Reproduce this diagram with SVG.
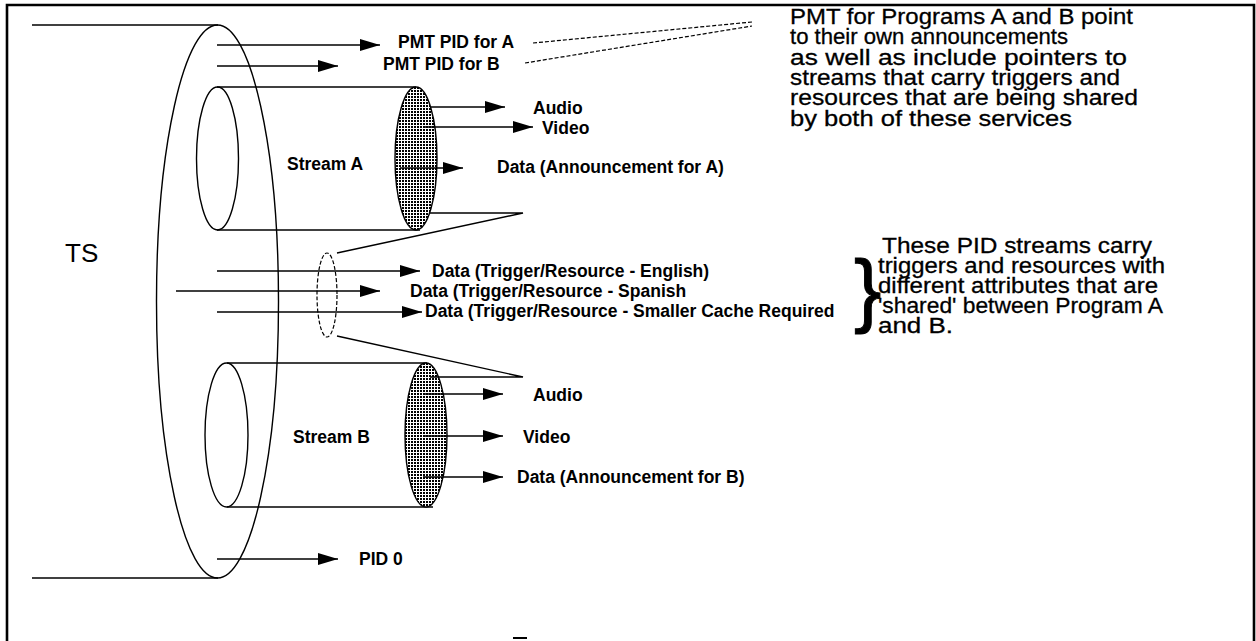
<svg xmlns="http://www.w3.org/2000/svg" width="1256" height="641" viewBox="0 0 1256 641">
  <defs>
    <!-- dotted screen used for the stream end caps -->
    <pattern id="dots" width="3" height="3" patternUnits="userSpaceOnUse">
      <rect width="3" height="3" fill="#fff"/>
      <rect width="2" height="2" fill="#000"/>
    </pattern>
    <marker id="head" markerUnits="userSpaceOnUse" markerWidth="20" markerHeight="12" refX="20" refY="6" orient="auto">
      <path d="M0,0 L20,6 L0,12 z" fill="#000"/>
    </marker>
  </defs>
  <style>
    .ln { stroke: #000; stroke-width: 1.4; fill: none; }
    .arr { stroke: #000; stroke-width: 1.4; fill: none; marker-end: url(#head); }
    .dash { stroke: #000; stroke-width: 1.2; fill: none; stroke-dasharray: 4 2; }
    .lbl { font-family: "Liberation Sans", Arial, sans-serif; font-weight: bold; font-size: 17.5px; fill: #000; }
    .note { font-family: "Liberation Sans", Arial, sans-serif; font-size: 22px; fill: #000; stroke: #000; stroke-width: 0.3px; }
    .cap { fill: url(#dots); stroke: #000; stroke-width: 1.4; }
  </style>

  <rect width="1256" height="641" fill="#fff"/>
  <!-- frame (open at the bottom) -->
  <path d="M7,645 V5 H1254 V645" fill="none" stroke="#000" stroke-width="2.6"/>

  <!-- transport stream tube -->
  <g id="ts">
    <ellipse class="ln" cx="217.5" cy="301.5" rx="61" ry="276.5"/>
    <line class="ln" x1="32" y1="25" x2="218" y2="25"/>
    <line class="ln" x1="32" y1="578" x2="218" y2="578"/>
    <text x="65" y="262" font-family="Liberation Sans, Arial, sans-serif" font-size="26">TS</text>
  </g>

  <!-- program stream A -->
  <g id="stream-a">
    <ellipse class="ln" cx="217.5" cy="158.5" rx="21" ry="71.5"/>
    <line class="ln" x1="217" y1="87" x2="416" y2="87"/>
    <line class="ln" x1="217" y1="230" x2="420" y2="230"/>
    <ellipse class="cap" cx="416" cy="158.5" rx="21" ry="71.5"/>
    <text class="lbl" x="287" y="170">Stream A</text>
  </g>

  <!-- program stream B -->
  <g id="stream-b">
    <ellipse class="ln" cx="226.5" cy="435" rx="21.5" ry="72"/>
    <line class="ln" x1="227" y1="363" x2="427" y2="363"/>
    <line class="ln" x1="227" y1="507" x2="433" y2="507"/>
    <ellipse class="cap" cx="426" cy="435" rx="21" ry="72"/>
    <text class="lbl" x="293" y="443">Stream B</text>
  </g>

  <!-- shared trigger / resource PIDs -->
  <g id="shared">
    <ellipse class="dash" cx="327" cy="295" rx="10" ry="42"/>
  </g>

  <!-- connectors -->
  <g id="connectors">
    <line class="arr" x1="217" y1="45" x2="380" y2="45"/>
    <line class="arr" x1="217" y1="66" x2="338" y2="66"/>
    <line class="arr" x1="430" y1="107" x2="505" y2="107"/>
    <line class="arr" x1="423" y1="127" x2="533" y2="127"/>
    <line class="arr" x1="400" y1="168" x2="463" y2="168"/>
    <line class="arr" x1="217" y1="271" x2="420" y2="271"/>
    <line class="arr" x1="176" y1="291" x2="380" y2="291"/>
    <line class="arr" x1="217" y1="312" x2="422" y2="312"/>
    <line class="arr" x1="423" y1="394" x2="503" y2="394"/>
    <line class="arr" x1="423" y1="436" x2="503" y2="436"/>
    <line class="arr" x1="423" y1="477" x2="503" y2="477"/>
    <line class="arr" x1="217" y1="559" x2="338" y2="559"/>
    <!-- callout from the shared PIDs into both streams -->
    <polyline class="ln" points="430,213 523,213 337,253"/>
    <polyline class="ln" points="430,377 523,377 337,336"/>
    <!-- PMT pointers to the note -->
    <line class="dash" x1="533" y1="43" x2="752" y2="22"/>
    <line class="dash" x1="525" y1="63" x2="752" y2="26"/>
  </g>

  <!-- labels -->
  <g id="labels">
    <text class="lbl" x="398" y="48">PMT PID for A</text>
    <text class="lbl" x="383" y="70">PMT PID for B</text>
    <text class="lbl" x="533" y="114">Audio</text>
    <text class="lbl" x="542" y="134">Video</text>
    <text class="lbl" x="497" y="173">Data (Announcement for A)</text>
    <text class="lbl" x="432" y="277">Data (Trigger/Resource - English)</text>
    <text class="lbl" x="410" y="297">Data (Trigger/Resource - Spanish</text>
    <text class="lbl" x="425" y="317">Data (Trigger/Resource - Smaller Cache Required</text>
    <text class="lbl" x="533" y="401">Audio</text>
    <text class="lbl" x="523" y="443">Video</text>
    <text class="lbl" x="517" y="483">Data (Announcement for B)</text>
    <text class="lbl" x="359" y="565">PID 0</text>
  </g>

  <g id="note-pmt">
    <text class="note" x="790" y="24" textLength="343" lengthAdjust="spacingAndGlyphs">PMT for Programs A and B point</text>
    <text class="note" x="790" y="44.3" textLength="278" lengthAdjust="spacingAndGlyphs">to their own announcements</text>
    <text class="note" x="790" y="64.6" textLength="337" lengthAdjust="spacingAndGlyphs">as well as include pointers to</text>
    <text class="note" x="790" y="84.9" textLength="330" lengthAdjust="spacingAndGlyphs">streams that carry triggers and</text>
    <text class="note" x="790" y="105.2" textLength="348" lengthAdjust="spacingAndGlyphs">resources that are being shared</text>
    <text class="note" x="790" y="125.5" textLength="282" lengthAdjust="spacingAndGlyphs">by both of these services</text>
  </g>

  <g id="note-shared">
    <text x="854" y="317" font-family="Liberation Sans, Arial, sans-serif" font-size="82" stroke="#000" stroke-width="1">}</text>
    <text class="note" x="882" y="253" textLength="270" lengthAdjust="spacingAndGlyphs">These PID streams carry</text>
    <text class="note" x="878" y="273" textLength="287" lengthAdjust="spacingAndGlyphs">triggers and resources with</text>
    <text class="note" x="878" y="293" textLength="280" lengthAdjust="spacingAndGlyphs">different attributes that are</text>
    <text class="note" x="878" y="313" textLength="285" lengthAdjust="spacingAndGlyphs">'shared' between Program A</text>
    <text class="note" x="878" y="333" textLength="75" lengthAdjust="spacingAndGlyphs">and B.</text>
  </g>

  <rect x="513" y="637" width="14" height="2" fill="#000"/>
</svg>
